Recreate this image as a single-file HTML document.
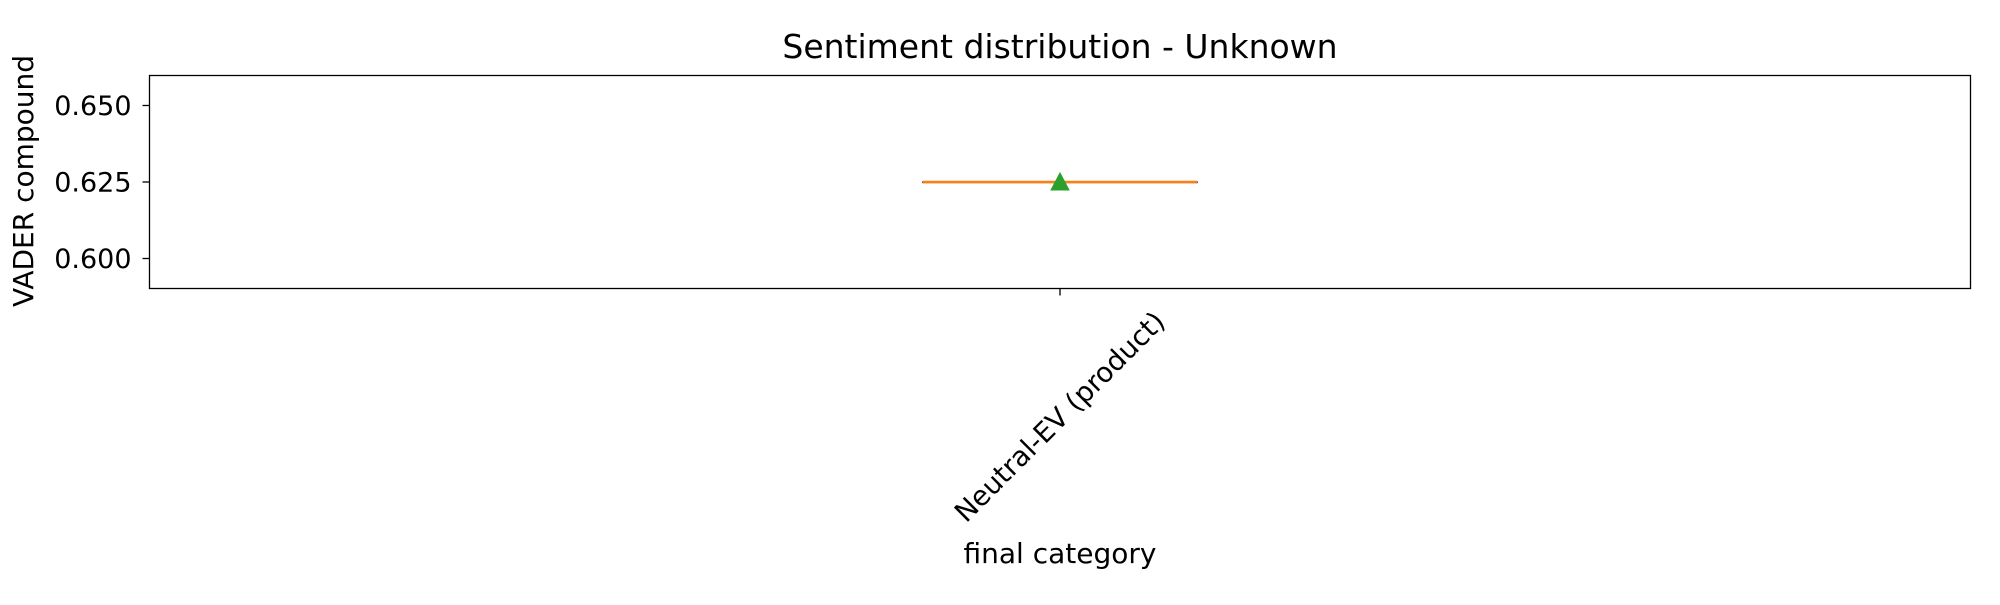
<!DOCTYPE html>
<html><head><meta charset="utf-8"><style>
html,body{margin:0;padding:0;background:#fff;}
svg text{font-family:"DejaVu Sans","Liberation Sans",sans-serif;fill:#000;}
</style></head><body>
<svg id="chart" width="2000" height="600" viewBox="0 0 2000 600">
<rect x="0" y="0" width="2000" height="600" fill="#fff"/>
<text x="1060" y="58" font-size="33" text-anchor="middle">Sentiment distribution - Unknown</text>
<g id="plot"></g>
<rect x="149.5" y="75.5" width="1821" height="213" fill="none" stroke="#000" stroke-width="1.3"/>
<text x="0" y="0" font-size="28" text-anchor="middle" transform="translate(33,181) rotate(-90)">VADER compound</text>
<text x="1060" y="563" font-size="28" text-anchor="middle">final category</text>
</svg>
<script>
const categories = ["Neutral-EV (product)"];
const medians = [0.625];
const means = [0.625];
const q1 = [0.625];
const q3 = [0.625];
const yTicks = [0.600, 0.625, 0.650];
const yTickLabels = ["0.600", "0.625", "0.650"];

const NS = "http://www.w3.org/2000/svg";
const plot = document.getElementById("plot");
const L = 149.5, R = 1970.5, T = 75.5, B = 288.5;
const yMin = 0.5902, yMax = 0.6598;
function yScale(v){ return B - (v - yMin) / (yMax - yMin) * (B - T); }
function xScale(i){ return L + (i + 0.5) / categories.length * (R - L); }
function mk(tag, attrs){ const e = document.createElementNS(NS, tag); for (const k in attrs) e.setAttribute(k, attrs[k]); plot.appendChild(e); return e; }

yTicks.forEach((v, i) => {
  const y = yScale(v);
  const t = mk("line", {x1: L - 7, x2: L, y1: y, y2: y, stroke: "#000", "stroke-width": 1.3});
  
  
  const lb = mk("text", {x: L - 18, y: y + 9.5, "font-size": 27, "text-anchor": "end"});
  lb.textContent = yTickLabels[i];
  
  
});

const halfW = 137;
categories.forEach((c, i) => {
  const x = xScale(i);
  const tk = mk("line", {x1: x, x2: x, y1: B, y2: B + 7, stroke: "#000", "stroke-width": 1.3});
  
  
  const lb = mk("text", {x: 0, y: 0, "font-size": 27.5, "text-anchor": "middle", "dominant-baseline": "central", transform: `translate(${x},417) rotate(-45)`});
  lb.textContent = c;
  
  
  const y1 = yScale(q3[i]), y2 = yScale(q1[i]);
  const box = mk("rect", {x: x - halfW, y: y1, width: 2 * halfW, height: Math.max(0.5, y2 - y1), fill: "none", stroke: "#000", "stroke-width": 1.3});
  
  
  const ym = yScale(medians[i]);
  const med = mk("line", {x1: x - halfW, x2: x + halfW, y1: ym, y2: ym, stroke: "#ff7f0e", "stroke-width": 2.5});
  
  
  const ya = yScale(means[i]);
  const tri = mk("polygon", {points: `${x},${ya - 9} ${x - 9},${ya + 8} ${x + 9},${ya + 8}`, fill: "#2ca02c", stroke: "#2ca02c"});
  
  
});
</script>
</body></html>
